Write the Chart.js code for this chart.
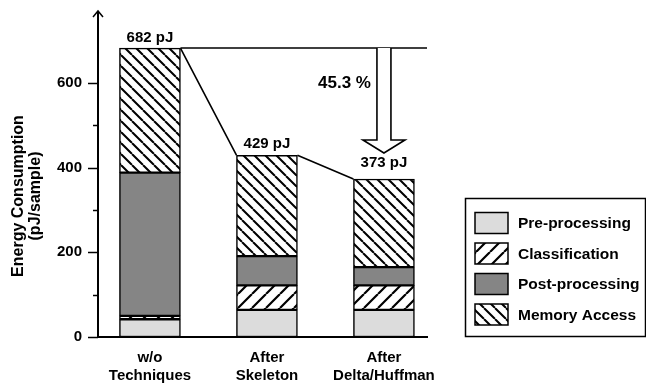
<!DOCTYPE html>
<html>
<head>
<meta charset="utf-8">
<script src="https://cdn.jsdelivr.net/npm/chart.js@4/dist/chart.umd.min.js"></script>
<style>
  html, body { margin: 0; padding: 0; background: #fff; }
  #wrap { width: 646px; height: 388px; }
</style>
</head>
<body>
<div id="wrap"><canvas id="c" width="646" height="388"></canvas></div>
<script>
// Energy per sample (pJ) for each design step, split by pipeline stage
const categories = [['w/o', 'Techniques'], ['After', 'Skeleton'], ['After', 'Delta/Huffman']];
const seriesNames = ['Pre-processing', 'Classification', 'Post-processing', 'Memory Access'];
const preProcessing  = [42, 64, 64];
const classification = [8, 58, 58];
const postProcessing = [338, 69, 43];
const memoryAccess   = [294, 238, 208];
const yTickValues  = [0, 200, 400, 600];
const yMinorValues = [100, 300, 500];

const FONT = '"Liberation Sans", Arial, Helvetica, sans-serif';
const canvas = document.getElementById('c');
const ctx = canvas.getContext('2d');

// Diagonal hatch fills: 'fwd' draws "/" lines, 'back' draws "\" lines
function hatch(dir, size, lw) {
  const t = document.createElement('canvas');
  t.width = t.height = size;
  const g = t.getContext('2d');
  g.fillStyle = '#fff';
  g.fillRect(0, 0, size, size);
  g.strokeStyle = '#000';
  g.lineWidth = lw;
  g.beginPath();
  for (let k = -1; k <= 1; k++) {
    if (dir === 'back') {
      g.moveTo(k * size, 0); g.lineTo(k * size + size, size);
    } else {
      g.moveTo(k * size, size); g.lineTo(k * size + size, 0);
    }
  }
  g.stroke();
  return ctx.createPattern(t, 'repeat');
}

const fills = ['#dcdcdc', hatch('fwd', 14, 2.2), '#858585', hatch('back', 11, 2)];
const seriesData = [preProcessing, classification, postProcessing, memoryAccess];
const totals = categories.map((_, i) => seriesData.reduce((s, arr) => s + arr[i], 0));
const toPoints = arr => arr.map((v, i) => ({ x: i, y: v }));

const datasets = seriesNames.map((name, k) => ({
  label: name,
  data: toPoints(seriesData[k]),
  backgroundColor: fills[k],
  borderColor: '#000',
  borderWidth: 1.5,
  borderSkipped: false,
  barThickness: 61,
  stack: 'energy'
}));

const noPadding = s => { s.paddingTop = 0; s.paddingBottom = 0; s.paddingLeft = 0; s.paddingRight = 0; };

// Axis decorations, value labels, connectors, reduction arrow and boxed legend
const overlay = {
  id: 'overlay',
  afterDraw(chart) {
    const c = chart.ctx;
    const y = chart.scales.y;
    const area = chart.chartArea;
    const axisX = area.left;
    c.save();
    c.strokeStyle = '#000';
    c.fillStyle = '#000';

    // y axis extension with open arrow head
    c.lineWidth = 2;
    c.beginPath();
    c.moveTo(axisX, area.top);
    c.lineTo(axisX, area.top - 4);
    c.stroke();
    c.lineWidth = 1.5;
    c.beginPath();
    c.moveTo(axisX - 5, area.top + 2);
    c.lineTo(axisX, area.top - 4);
    c.lineTo(axisX + 5, area.top + 2);
    c.stroke();

    // tick marks
    c.lineWidth = 1.5;
    yTickValues.forEach(v => {
      const py = Math.round(y.getPixelForValue(v)) + 0.5;
      c.beginPath(); c.moveTo(axisX - 10, py); c.lineTo(axisX, py); c.stroke();
    });
    yMinorValues.forEach(v => {
      const py = Math.round(y.getPixelForValue(v)) + 0.5;
      c.beginPath(); c.moveTo(axisX - 5, py); c.lineTo(axisX, py); c.stroke();
    });

    // y axis title
    c.save();
    c.translate(0, 196);
    c.rotate(-Math.PI / 2);
    c.font = 'bold 16px ' + FONT;
    c.textAlign = 'center';
    c.textBaseline = 'middle';
    c.fillText('Energy Consumption', 0, 19);
    c.fillText('(pJ/sample)', 0, 36);
    c.restore();

    // stack tops
    const topMeta = chart.getDatasetMeta(seriesNames.length - 1).data;
    const bars = topMeta.map(b => ({ cx: b.x, left: b.x - b.width / 2, right: b.x + b.width / 2, top: b.y }));

    // connectors between stacks
    c.lineWidth = 1.6;
    c.beginPath();
    c.moveTo(bars[0].right, bars[0].top); c.lineTo(bars[1].left, bars[1].top);
    c.moveTo(bars[1].right, bars[1].top); c.lineTo(bars[2].left, bars[2].top);
    c.moveTo(bars[0].right, bars[0].top); c.lineTo(area.right, bars[0].top);
    c.stroke();

    // hollow reduction arrow
    const ax = bars[2].cx;
    const tipY = bars[2].top - 26;
    const headY = tipY - 13;
    c.fillStyle = '#fff';
    c.beginPath();
    c.moveTo(ax - 7, bars[0].top);
    c.lineTo(ax - 7, headY);
    c.lineTo(ax - 21, headY);
    c.lineTo(ax, tipY);
    c.lineTo(ax + 21, headY);
    c.lineTo(ax + 7, headY);
    c.lineTo(ax + 7, bars[0].top);
    c.fill();
    c.stroke();
    c.fillStyle = '#000';

    // reduction percentage
    const pct = (totals[0] - totals[totals.length - 1]) / totals[0] * 100;
    c.font = 'bold 17px ' + FONT;
    c.textAlign = 'right';
    c.textBaseline = 'middle';
    c.fillText(pct.toFixed(1) + ' %', ax - 13, bars[0].top + 35);

    // total labels above stacks
    c.font = 'bold 15px ' + FONT;
    c.textAlign = 'center';
    c.textBaseline = 'alphabetic';
    const gaps = [6, 7, 12];
    bars.forEach((b, i) => {
      c.fillText(totals[i] + ' pJ', b.cx, b.top - gaps[i]);
    });

    // legend box
    const lx = 465, ly = 198, lw = 180, lh = 138;
    c.lineWidth = 1.5;
    c.strokeRect(lx + 0.5, ly + 0.5, lw, lh);
    c.font = 'bold 15.5px ' + FONT;
    c.textAlign = 'left';
    c.textBaseline = 'middle';
    seriesNames.forEach((name, k) => {
      const cy = 223 + k * 30.5;
      c.fillStyle = fills[k];
      c.fillRect(475, cy - 10.5, 33, 21);
      c.strokeRect(475, cy - 10.5, 33, 21);
      c.fillStyle = '#000';
      c.fillText(name, 518, cy + 1);
    });
    c.restore();
  }
};

new Chart(canvas, {
  type: 'bar',
  data: { datasets },
  plugins: [overlay],
  options: {
    responsive: false,
    animation: false,
    layout: { padding: { left: 0, right: 219, top: 15, bottom: 0 } },
    plugins: { legend: { display: false }, tooltip: { enabled: false } },
    scales: {
      x: {
        type: 'linear',
        stacked: true,
        offset: false,
        min: -0.444,
        max: 2.368,
        afterBuildTicks: s => { s.ticks = categories.map((_, i) => ({ value: i })); },
        afterFit: s => { s.height = 51; noPadding(s); },
        grid: { display: false, drawTicks: false },
        border: { display: true, color: '#000', width: 2 },
        ticks: {
          callback: v => categories[v],
          color: '#000',
          font: { family: FONT, size: 15, weight: 'bold', lineHeight: 1.25 },
          padding: 11,
          autoSkip: false,
          maxRotation: 0
        }
      },
      y: {
        stacked: true,
        min: 0,
        max: 760,
        afterBuildTicks: s => { s.ticks = yTickValues.map(v => ({ value: v })); },
        afterFit: s => { s.width = 98; noPadding(s); },
        grid: { display: false, drawTicks: false },
        border: { display: true, color: '#000', width: 2 },
        ticks: {
          color: '#000',
          font: { family: FONT, size: 15, weight: 'bold' },
          padding: 16
        }
      }
    }
  }
});
</script>
</body>
</html>
